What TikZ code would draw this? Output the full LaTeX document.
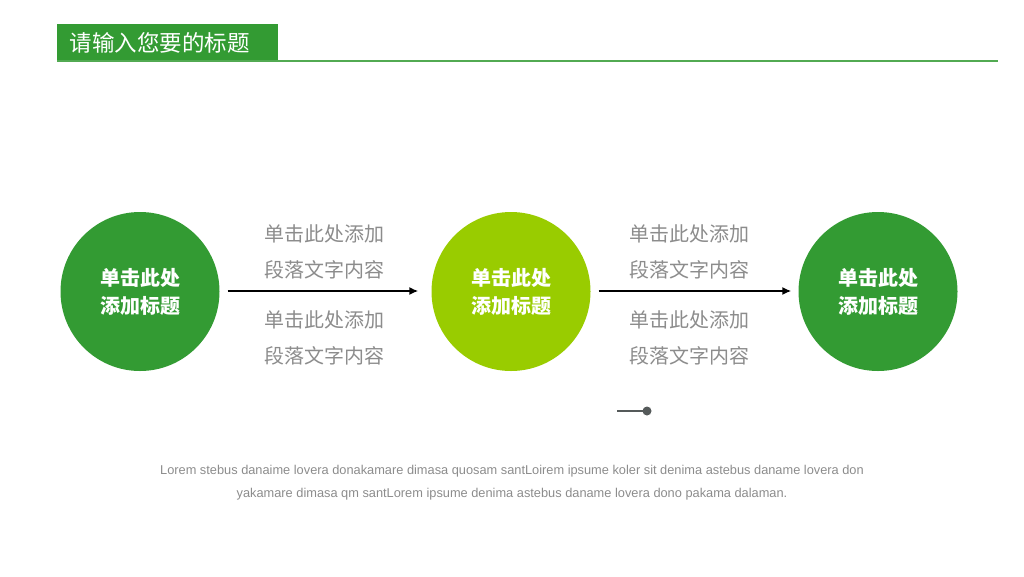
\documentclass[tikz,border=0pt]{standalone}
\usepackage{fontspec}
\setmainfont{Liberation Sans}
\newfontfamily\cjk{Noto Sans CJK SC}
\usetikzlibrary{arrows,arrows.meta,shapes,positioning}
\definecolor{vert}{RGB}{51,155,51}
\definecolor{vertclair}{RGB}{153,204,0}
\definecolor{gristexte}{RGB}{140,140,140}
\definecolor{grisfonce}{RGB}{85,90,90}
\begin{document}
\begin{tikzpicture}[x=1pt,y=-1pt]
%styles des cercles et des textes
\tikzset{cercle/.style={circle,minimum size=159pt,inner sep=0pt,text=white,font=\cjk\bfseries\fontsize{20}{28}\selectfont,align=center},
texte/.style={text=gristexte,font=\cjk\fontsize{20}{35.5}\selectfont,align=left,inner sep=0pt},
fleche/.style={-{Latex[length=9pt,width=8pt]},line width=1.6pt,shorten <=8pt}}
\useasboundingbox (0,0) rectangle (1024,576);
%bandeau du titre
\fill[vert] (57,24) rectangle (278,60);
\draw[vert!85!white,line width=2pt] (57,61)--(998,61);
\node[anchor=west,text=white,font=\cjk\fontsize{22.5}{26}\selectfont] (titre) at (66,43) {请输入您要的标题};
%les trois cercles
\node[cercle,fill=vert] (c1) at (140,291.5) {单击此处\\添加标题};
\node[cercle,fill=vertclair] (c2) at (511,291.5) {单击此处\\添加标题};
\node[cercle,fill=vert] (c3) at (878,291.5) {单击此处\\添加标题};
\draw[fleche,shorten >=13pt] (c1.east|-0,291)--(c2.west|-0,291);
\draw[fleche,shorten >=7pt] (c2.east|-0,291)--(c3.west|-0,291);
\node[texte,anchor=west] (t1) at (264,252) {单击此处添加\\段落文字内容};
\node[texte,anchor=west] (t2) at (264,338) {单击此处添加\\段落文字内容};
\node[texte,anchor=west] (t3) at (629,252) {单击此处添加\\段落文字内容};
\node[texte,anchor=west] (t4) at (629,338) {单击此处添加\\段落文字内容};
%petit trait avec un point
\coordinate (p0) at (617,411);
\fill[grisfonce] (647,411) circle (4.5) coordinate (p1);
\draw[grisfonce,line width=1.3pt] (p0)--(p1);
\node[text=gristexte,font=\fontsize{12.8}{23}\selectfont,align=center] (bas) at (512,483) {Lorem stebus danaime lovera donakamare dimasa quosam santLoirem ipsume koler sit denima astebus daname lovera don\\yakamare dimasa qm santLorem ipsume denima astebus daname lovera dono pakama dalaman.};
\end{tikzpicture}
\end{document}
